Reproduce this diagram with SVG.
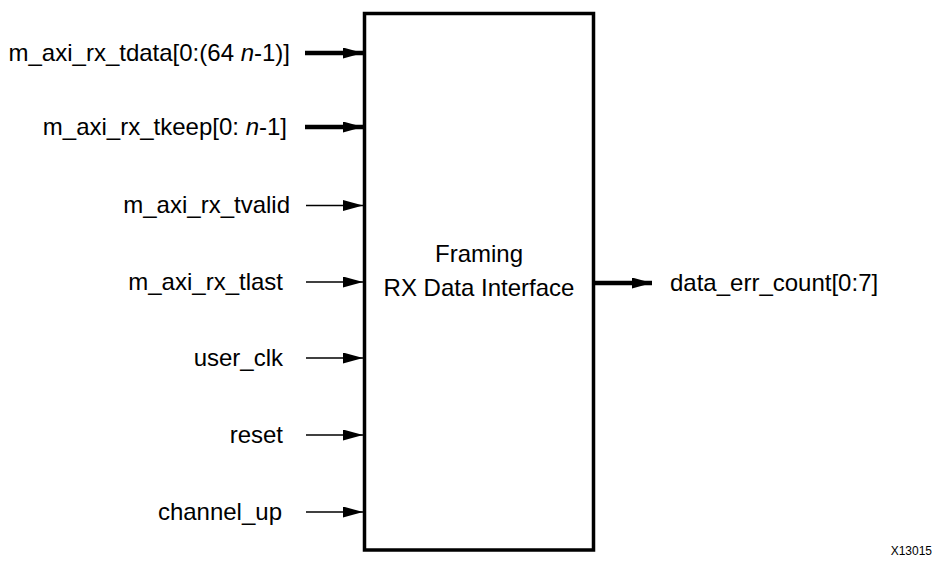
<svg xmlns="http://www.w3.org/2000/svg" width="938" height="565" viewBox="0 0 938 565">
<style>
text { font-family: "Liberation Sans", Arial, Helvetica, sans-serif; fill: #000; }
.lbl { font-size: 24px; }
.in { text-anchor: end; }
.thin { stroke: #000; stroke-width: 1.6; fill: none; }
.bus { stroke: #000; stroke-width: 4.5; fill: none; }
.box { fill: #fff; stroke: #000; stroke-width: 3.5; }
</style>
<defs>
<marker id="ah" markerUnits="userSpaceOnUse" markerWidth="21" markerHeight="12" refX="20" refY="5.5" orient="auto">
<path d="M0,0 L20,5.5 L0,11 z" fill="#000"/>
</marker>
</defs>
<rect width="938" height="565" fill="#fff"/>
<g id="block">
<rect class="box" x="364.5" y="13.5" width="229" height="536.5"/>
<text class="lbl" x="479" y="262" text-anchor="middle">Framing</text>
<text class="lbl" x="479" y="296" text-anchor="middle">RX Data Interface</text>
</g>
<g id="connectors">
<line class="bus" x1="305" y1="53" x2="363" y2="53" marker-end="url(#ah)"/>
<line class="bus" x1="305" y1="127" x2="363" y2="127" marker-end="url(#ah)"/>
<line class="thin" x1="306" y1="205.5" x2="363" y2="205.5" marker-end="url(#ah)"/>
<line class="thin" x1="306" y1="282" x2="363" y2="282" marker-end="url(#ah)"/>
<line class="thin" x1="306" y1="358" x2="363" y2="358" marker-end="url(#ah)"/>
<line class="thin" x1="306" y1="435" x2="363" y2="435" marker-end="url(#ah)"/>
<line class="thin" x1="306" y1="512" x2="363" y2="512" marker-end="url(#ah)"/>
<line class="bus" x1="595" y1="283" x2="652" y2="283" marker-end="url(#ah)"/>
</g>
<g id="in_tdata"><text class="lbl in" x="290" y="61">m_axi_rx_tdata[0:(64 <tspan font-style="italic">n</tspan>-1)]</text></g>
<g id="in_tkeep"><text class="lbl in" x="287" y="135">m_axi_rx_tkeep[0: <tspan font-style="italic">n</tspan>-1]</text></g>
<g id="in_tvalid"><text class="lbl in" x="290" y="213">m_axi_rx_tvalid</text></g>
<g id="in_tlast"><text class="lbl in" x="283" y="290">m_axi_rx_tlast</text></g>
<g id="in_user_clk"><text class="lbl in" x="283" y="366">user_clk</text></g>
<g id="in_reset"><text class="lbl in" x="283" y="443">reset</text></g>
<g id="in_channel_up"><text class="lbl in" x="282" y="520">channel_up</text></g>
<g id="out_data_err_count"><text class="lbl" x="670" y="291">data_err_count[0:7]</text></g>
<text x="932" y="555" font-size="12" text-anchor="end">X13015</text>
</svg>
